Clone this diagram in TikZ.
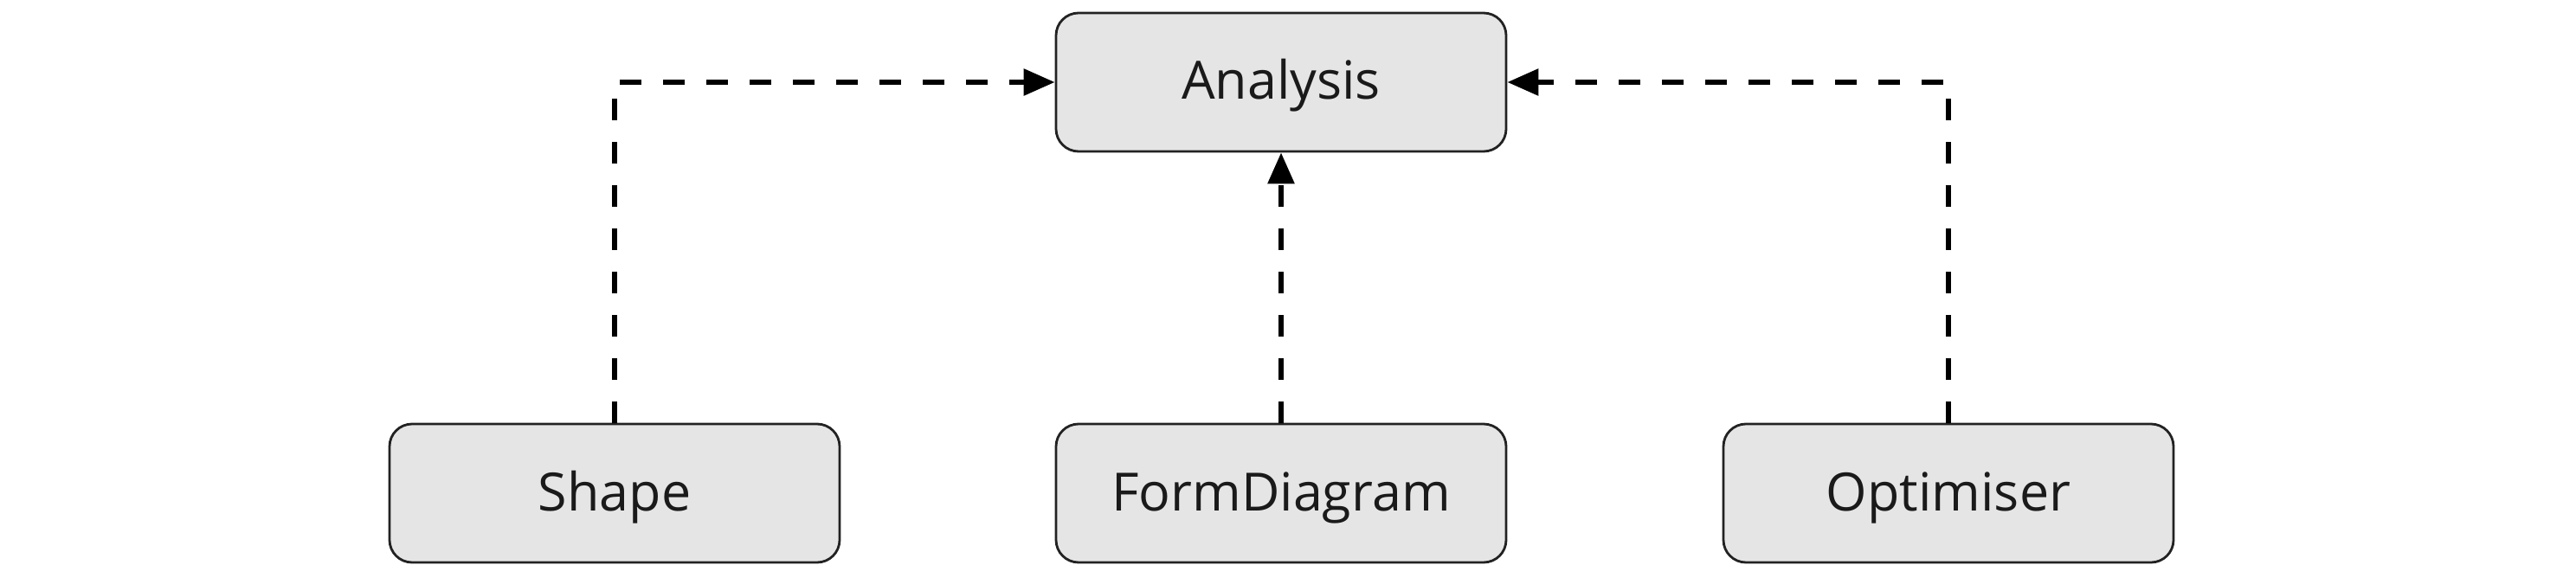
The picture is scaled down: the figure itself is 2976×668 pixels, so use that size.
\documentclass[tikz,border=0pt]{standalone}
\usepackage{fontspec}
\setmainfont{Open Sans}
\usetikzlibrary{arrows.meta}
\definecolor{boxfill}{HTML}{E5E5E5}
\definecolor{boxline}{HTML}{222222}
\definecolor{txt}{HTML}{1A1A1A}
\begin{document}
\begin{tikzpicture}[x=0.5pt,y=-0.5pt,
  classbox/.style={draw=boxline, fill=boxfill, line width=1.4pt, rounded corners=13pt,
    minimum width=260pt, minimum height=80pt, inner sep=0pt, text=txt,
    text height=26pt, text depth=6pt,
    font=\fontsize{30.5pt}{36pt}\selectfont},
  dep/.style={line width=3pt, dash pattern=on 12.5pt off 12.5pt,
    -{Triangle[length=18pt,width=15pt]}}]
\useasboundingbox (0,0) rectangle (2976,668);
\node[classbox] (a) at (1480,95) {Analysis};
\node[classbox] (s) at (710,570) {Shape};
\node[classbox] (f) at (1480,570) {FormDiagram};
\node[classbox] (o) at (2251,570) {Optimiser};
\draw[dep] (s.north) |- (a.west);
\draw[dep] (f.north) -- (a.south);
\draw[dep] (o.north) |- (a.east);
\end{tikzpicture}
\end{document}
